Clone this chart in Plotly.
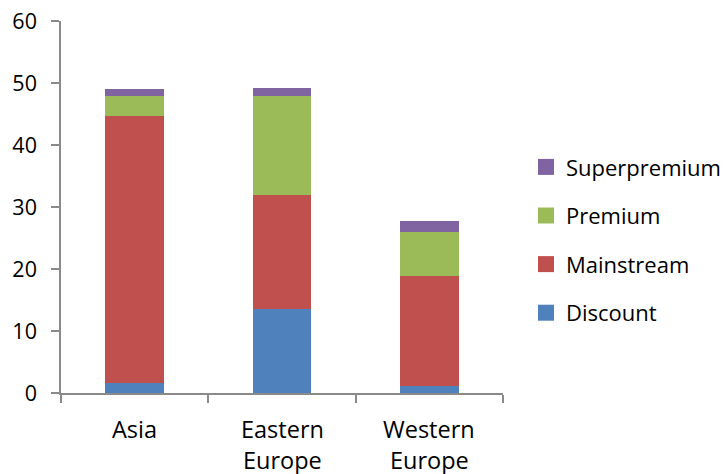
import plotly.graph_objects as go

# Market size by region and price segment
regions = ["Asia", "Eastern Europe", "Western Europe"]
region_lines = [["Asia"], ["Eastern", "Europe"], ["Western", "Europe"]]
segments = ["Discount", "Mainstream", "Premium", "Superpremium"]
discount = [1.6, 13.6, 1.2]
mainstream = [43.0, 18.3, 17.7]
premium = [3.3, 16.0, 7.0]
superpremium = [1.2, 1.3, 1.8]
colors = ["#4F81BD", "#C0504D", "#9BBB59", "#8064A2"]
y_ticks = [0, 10, 20, 30, 40, 50, 60]

series = [discount, mainstream, premium, superpremium]

font_family = "Open Sans, Liberation Sans, sans-serif"
axis_color = "#8A8A8A"

fig = go.Figure()
for name, vals, col in zip(segments, series, colors):
    fig.add_trace(go.Bar(
        x=regions, y=vals, name=name, showlegend=False,
        marker=dict(color=col, line=dict(width=0)),
    ))

# Legend entries (top to bottom: Superpremium ... Discount) with square swatches
for name, col in reversed(list(zip(segments, colors))):
    fig.add_trace(go.Scatter(
        x=[None], y=[None], mode="markers", name=name, legendgroup=name,
        marker=dict(symbol="square", size=16, color=col),
    ))

# Category labels, one text line per row
for region, lines in zip(regions, region_lines):
    for i, line in enumerate(lines):
        fig.add_annotation(
            x=region, xref="x", y=0, yref="paper",
            text=line, showarrow=False,
            xanchor="center", yanchor="middle",
            yshift=-36 - 31 * i,
            font=dict(family=font_family, size=23.5, color="#000000"),
        )

fig.update_layout(
    width=726, height=474,
    margin=dict(l=61, r=223, t=21, b=81, autoexpand=False),
    barmode="stack", bargap=0.6,
    plot_bgcolor="white", paper_bgcolor="white",
    font=dict(family=font_family, size=22, color="#000000"),
    legend=dict(
        x=1.052, y=0.411, xanchor="left", yanchor="middle",
        traceorder="grouped", tracegroupgap=17,
        font=dict(size=22), itemwidth=30,
    ),
    xaxis=dict(
        showline=True, linecolor=axis_color, linewidth=1.5,
        ticks="outside", tickson="boundaries", ticklen=8,
        tickcolor=axis_color, tickwidth=1.5,
        showgrid=False, showticklabels=False, automargin=False,
    ),
    yaxis=dict(
        range=[0, 60], tickvals=y_ticks,
        showline=True, linecolor=axis_color, linewidth=1.5,
        ticks="outside", ticklen=8, tickcolor=axis_color, tickwidth=1.5,
        showgrid=False, zeroline=False, automargin=False,
        ticklabelstandoff=10, tickfont=dict(size=21.5),
    ),
)

fig.write_html("out.html")
